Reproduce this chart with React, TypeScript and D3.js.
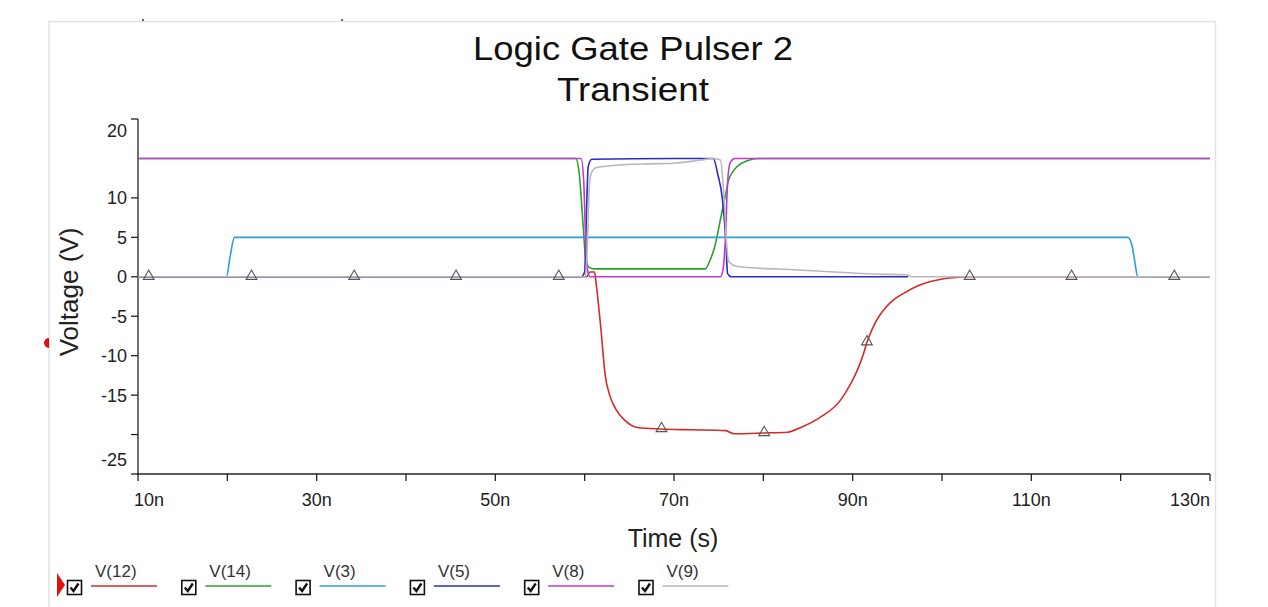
import React, { useEffect, useRef } from "react";
import * as d3 from "d3";

// time in ns, voltage in V
const seriesNames = ["V(12)", "V(14)", "V(3)", "V(5)", "V(8)", "V(9)"];
const seriesColors = ["#d42a2a", "#2ca02c", "#2b9fd6", "#2a2ac4", "#c23ad2", "#b8b8b8"];

const v12 = [
  [10, 0], [60.2, 0], [60.6, 0.6], [61.1, 0.6], [61.3, -1], [61.8, -6.4], [62.3, -12.5],
  [62.8, -15.0], [63.5, -16.8], [64.5, -18.2], [65.9, -19.1], [68.5, -19.3], [72, -19.4],
  [75.8, -19.5], [76.7, -19.9], [80.1, -19.8], [82.7, -19.7], [84.2, -19.1], [86.4, -17.8],
  [88.6, -15.7], [89.8, -13.5], [90.5, -11.9], [91.2, -9.8], [91.6, -8.3], [92.2, -6.6],
  [92.9, -5.1], [93.7, -3.9], [94.6, -2.9], [95.7, -2.1], [97.6, -1.0], [99.5, -0.4],
  [101.5, -0.1], [103, 0], [130, 0],
];
const v14 = [
  [10, 15], [59.0, 15], [59.4, 13], [59.8, 7], [60.1, 2.5], [60.5, 1.2], [61, 1.0],
  [73.5, 1.0], [74.0, 2], [74.6, 4], [75.4, 8.4], [75.8, 10.5], [76.1, 12.2], [77.1, 14],
  [78.2, 14.7], [79.4, 15], [130, 15],
];
const v3 = [
  [10, 0], [19.9, 0], [20.3, 2.5], [20.8, 5], [120.8, 5], [121.3, 3.8], [121.6, 1.8],
  [121.9, 0], [130, 0],
];
const v5 = [
  [10, 0], [59.6, 0], [60.0, 0.6], [60.2, 8], [60.4, 14], [60.8, 14.9], [70, 15],
  [74.4, 15], [74.9, 13], [75.4, 10], [75.8, 4.6], [76.0, 0.4], [76.4, 0], [96.2, 0],
];
const v8 = [
  [10, 15], [59.6, 15], [59.9, 12], [60.1, 5], [60.3, 1], [60.6, 0], [75.2, 0],
  [75.5, 1], [75.8, 6], [76.0, 12], [76.3, 14.5], [76.8, 15], [130, 15],
];
const v9 = [
  [10, 0], [60.1, 0], [60.3, 4], [60.5, 11], [60.7, 13], [61.2, 13.8], [62.6, 14.05],
  [66.3, 14.3], [70, 14.4], [73, 14.8], [74.4, 15], [75.2, 14.8], [75.6, 10], [75.9, 4],
  [76.1, 2], [77.1, 1.3], [79.4, 1.1], [83.4, 0.9], [88, 0.6], [92.3, 0.35], [96, 0.25],
  [96.6, 0], [130, 0],
];
const seriesData = [v12, v14, v3, v5, v8, v9];

// triangle markers sitting on V(12)
const v12Markers = [
  [11.2, 0], [22.7, 0], [34.2, 0], [45.6, 0], [57.1, 0], [68.6, -19.3], [80.1, -19.8],
  [91.6, -8.3], [103.1, 0], [114.5, 0], [126, 0],
];

const timeTicks = [10, 20, 30, 40, 50, 60, 70, 80, 90, 100, 110, 120, 130];
const timeLabels = ["10n", "", "30n", "", "50n", "", "70n", "", "90n", "", "110n", "", "130n"];
const voltTicks = [20, 10, 5, 0, -5, -10, -15, -20, -25];
const voltLabels = ["20", "10", "5", "0", "-5", "-10", "-15", "", "-25"];

const FONT = "'Liberation Sans', Arial, sans-serif";

function App() {
  const ref = useRef<SVGSVGElement>(null);

  useEffect(() => {
    const svg = d3.select(ref.current);
    svg.selectAll("*").remove();

    const x = d3.scaleLinear().domain([10, 130]).range([138, 1210]);
    const y = d3.scaleLinear().domain([-25, 20]).range([474, 119]);

    svg.append("rect").attr("width", 1268).attr("height", 607).attr("fill", "#fff");

    // outer frame
    const frame = svg.append("g").attr("stroke", "#e2e2e2").attr("stroke-width", 1.5);
    frame.append("line").attr("x1", 49).attr("x2", 1215).attr("y1", 21.5).attr("y2", 21.5);
    frame.append("line").attr("x1", 49).attr("x2", 49).attr("y1", 21).attr("y2", 607);
    frame.append("line").attr("x1", 1215.5).attr("x2", 1215.5).attr("y1", 21).attr("y2", 607);
    svg.append("rect").attr("x", 142).attr("y", 19).attr("width", 2).attr("height", 2).attr("fill", "#666");
    svg.append("rect").attr("x", 341).attr("y", 19).attr("width", 2).attr("height", 2).attr("fill", "#666");

    // title
    svg.append("text").attr("x", 633).attr("y", 60).attr("text-anchor", "middle")
      .attr("font-family", FONT).attr("font-size", 33).attr("fill", "#111")
      .attr("textLength", 320).attr("lengthAdjust", "spacingAndGlyphs")
      .text("Logic Gate Pulser 2");
    svg.append("text").attr("x", 633).attr("y", 101).attr("text-anchor", "middle")
      .attr("font-family", FONT).attr("font-size", 33).attr("fill", "#111")
      .attr("textLength", 152).attr("lengthAdjust", "spacingAndGlyphs")
      .text("Transient");

    // axes
    const axisG = svg.append("g").attr("stroke", "#222").attr("stroke-width", 1.3);
    axisG.append("line").attr("x1", x(10)).attr("x2", x(10)).attr("y1", y(20)).attr("y2", y(-25));
    axisG.append("line").attr("x1", x(10) - 1).attr("x2", x(130)).attr("y1", y(-25)).attr("y2", y(-25));
    axisG.selectAll(".yt").data(voltTicks).enter().append("line")
      .attr("x1", x(10) - 7).attr("x2", x(10)).attr("y1", (d) => y(d)).attr("y2", (d) => y(d));
    axisG.selectAll(".xt").data(timeTicks).enter().append("line")
      .attr("x1", (d) => x(d)).attr("x2", (d) => x(d)).attr("y1", y(-25)).attr("y2", y(-25) + 7);

    svg.selectAll(".yl").data(voltTicks).enter().append("text")
      .attr("x", 127)
      .attr("y", (d, i) => (i === 0 ? y(d) + 12 : i === voltTicks.length - 1 ? y(d) - 14 : y(d)))
      .attr("dy", "0.36em").attr("text-anchor", "end")
      .attr("font-family", FONT).attr("font-size", 18).attr("fill", "#222")
      .text((_, i) => voltLabels[i]);

    svg.selectAll(".xl").data(timeTicks).enter().append("text")
      .attr("x", (d, i) => (i === 0 ? x(d) - 4 : x(d)))
      .attr("y", 506)
      .attr("text-anchor", (_, i) => (i === 0 ? "start" : i === timeTicks.length - 1 ? "end" : "middle"))
      .attr("font-family", FONT).attr("font-size", 18).attr("fill", "#222")
      .text((_, i) => timeLabels[i]);

    svg.append("text").attr("x", 673).attr("y", 547).attr("text-anchor", "middle")
      .attr("font-family", FONT).attr("font-size", 25).attr("fill", "#222")
      .text("Time (s)");
    svg.append("text").attr("transform", "translate(78,292) rotate(-90)").attr("text-anchor", "middle")
      .attr("font-family", FONT).attr("font-size", 26).attr("fill", "#222")
      .text("Voltage (V)");

    // red cursor marker on the left edge
    svg.append("path").attr("d", "M49,338 A5,5 0 0,0 49,348 Z").attr("fill", "#e01010");

    // traces
    const line = d3.line<number[]>()
      .x((d) => x(d[0]))
      .y((d) => y(d[1]))
      .curve(d3.curveMonotoneX);
    svg.append("g").selectAll("path").data(seriesData).enter().append("path")
      .attr("d", (d) => line(d))
      .attr("fill", "none")
      .attr("stroke", (_, i) => seriesColors[i])
      .attr("stroke-width", 1.6)
      .attr("stroke-linejoin", "round");

    const tri = d3.symbol().type(d3.symbolTriangle).size(50);
    svg.append("g").selectAll("path").data(v12Markers).enter().append("path")
      .attr("d", tri)
      .attr("transform", (d) => `translate(${x(d[0])},${y(d[1]) - 0.5})`)
      .attr("fill", "none")
      .attr("stroke", "#555").attr("stroke-width", 1.1);

    // legend
    const legend = svg.append("g").selectAll("g").data(seriesNames).enter().append("g")
      .attr("transform", (_, i) => `translate(${67 + i * 114.3},0)`);
    legend.append("rect").attr("x", 0.5).attr("y", 580.5).attr("width", 14).attr("height", 14)
      .attr("fill", "#fff").attr("stroke", "#111").attr("stroke-width", 1.6);
    legend.append("path").attr("d", "M3.5,587.5 L6.5,591 L11.5,583.5")
      .attr("fill", "none").attr("stroke", "#111").attr("stroke-width", 2.4);
    legend.append("line").attr("x1", 24).attr("x2", 90).attr("y1", 586).attr("y2", 586)
      .attr("stroke", (_, i) => seriesColors[i]).attr("stroke-width", 1.6);
    legend.append("text").attr("x", 28).attr("y", 577)
      .attr("font-family", FONT).attr("font-size", 17).attr("fill", "#333")
      .text((d) => d);

    svg.append("path").attr("d", "M57,573 L65,585 L57,597 Z").attr("fill", "#e01010");
  }, []);

  return (
    <svg
      ref={ref}
      width={1268}
      height={607}
      style={{ position: "absolute", left: 0, top: 0, display: "block" }}
    />
  );
}

export default App;
